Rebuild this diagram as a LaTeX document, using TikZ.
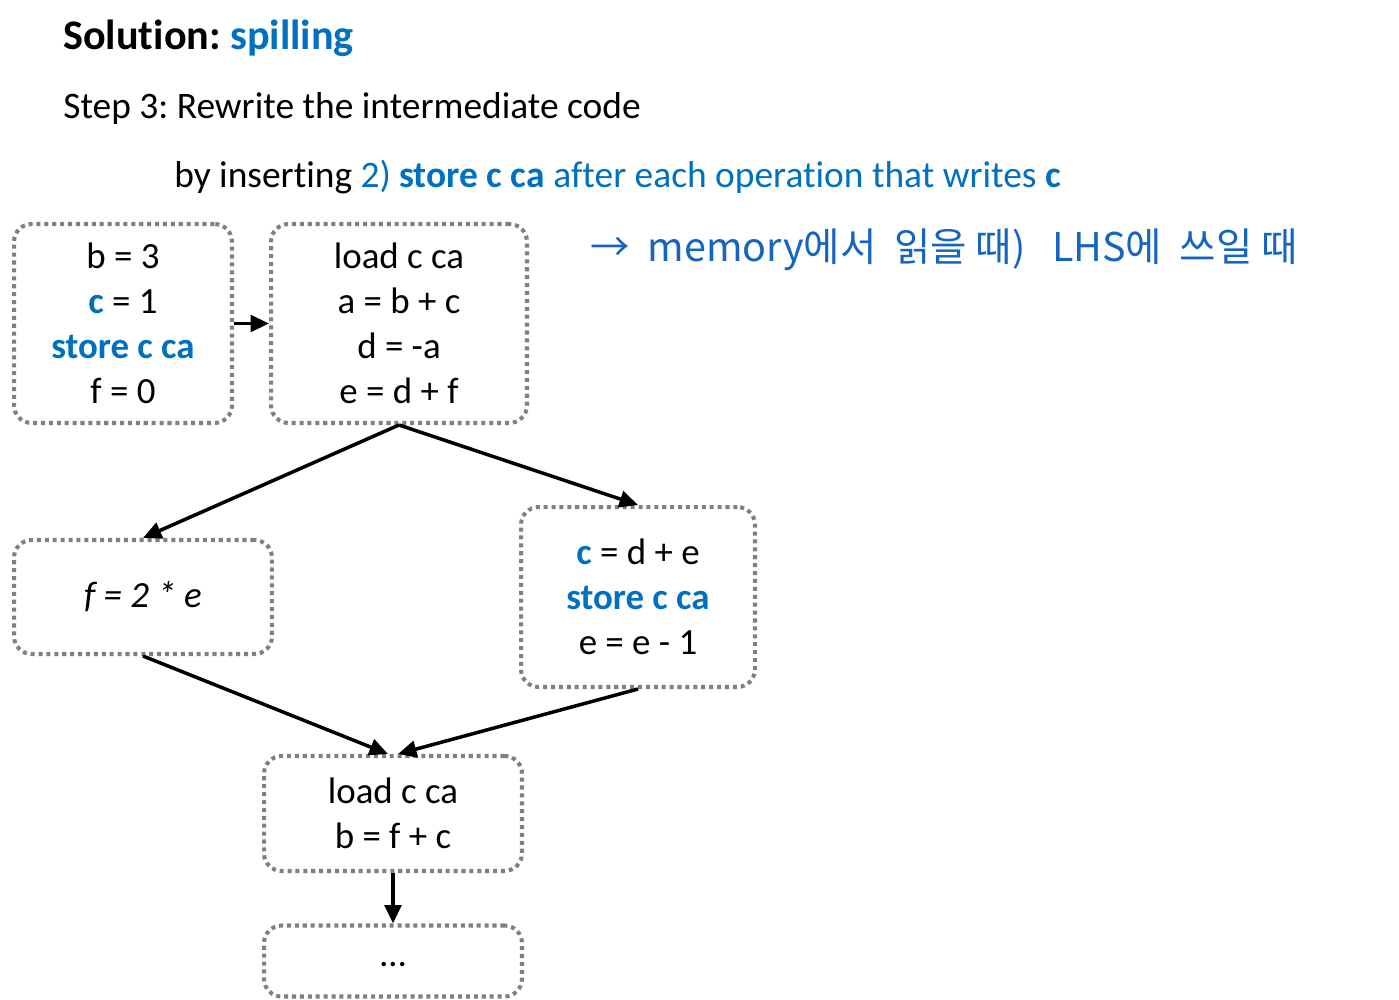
\documentclass[tikz,border=0pt]{standalone}
\usepackage{fontspec}
\setmainfont{Carlito}[Ligatures=NoCommon]
\newfontfamily\kr{Noto Sans CJK KR}
\usepackage{tikz}
\usetikzlibrary{positioning, arrows.meta, calc}
\definecolor{accent}{HTML}{0070C0}
\definecolor{pen}{HTML}{1565C0}
\definecolor{boxB}{HTML}{808080}
\newcommand{\hl}[1]{\textcolor{accent}{#1}}
\newcommand{\hlb}[1]{\textcolor{accent}{\textbf{#1}}}
\frenchspacing
\begin{document}
\begin{tikzpicture}[x=0.02cm, y=-0.02cm,
  blk/.style={draw=boxB, line width=2.3pt, dash pattern=on 2.3pt off 2.2pt, rounded corners=10pt, align=center, inner sep=0pt, font=\fontsize{21}{25.5}\selectfont},
  flow/.style={-{Triangle[length=10.5pt, width=9.5pt]}, line width=2pt},
  txt/.style={anchor=base west, inner sep=0pt}]
\useasboundingbox (0,0) rectangle (1399,1000);
% heading
\node[txt, font=\fontsize{24}{28}\selectfont\bfseries] (title) at (63,50) {Solution: \hl{spilling}};
\node[txt, font=\fontsize{21.3}{25}\selectfont] (step) at (63,119) {Step 3: Rewrite the intermediate code};
\node[txt, font=\fontsize{21.3}{25}\selectfont] (how) at (174,188) {by inserting \hl{2)} \hlb{store c ca} \hl{after each operation that writes} \hlb{c}};
\node[txt, anchor=west, font=\kr\fontsize{22.5}{26}\selectfont, color=pen] (memo) at (590,250) {→ \ memory에서 \ 읽을 때) \ \ LHS에 \ 쓰일 때};
% blocks
\node[blk, minimum width=4.36cm, minimum height=3.98cm] (entry) at (123,323.5) {b = 3\\\hlb{c} = 1\\\hlb{store c ca}\\f = 0};
\node[blk, minimum width=5.12cm, minimum height=3.98cm] (body) at (399,323.5) {load c ca\\a = b + c\\d = -a\\e = d + f};
\node[blk, minimum width=5.16cm, minimum height=2.28cm] (left) at (143,597) {\textit{f = 2 * e}};
\node[blk, minimum width=4.68cm, minimum height=3.6cm] (right) at (638,597) {\hlb{c} = d + e\\\hlb{store c ca}\\e = e - 1};
\node[blk, minimum width=5.16cm, minimum height=2.3cm] (join) at (393,813.5) {load c ca\\b = f + c};
\node[blk, minimum width=5.16cm, minimum height=1.42cm] (rest) at (393,961) {\raisebox{-6pt}{\dots}};
% edges
\draw[flow] (entry) -- (body);
\draw[flow] (body.south) -- (left.north);
\draw[flow] (body.south) -- (right.north);
\draw[flow] (left.south) -- ([xshift=-0.1cm]join.north);
\draw[flow] (right.south) -- ([xshift=0.1cm]join.north);
\draw[flow] (join) -- (rest);
\end{tikzpicture}
\end{document}
